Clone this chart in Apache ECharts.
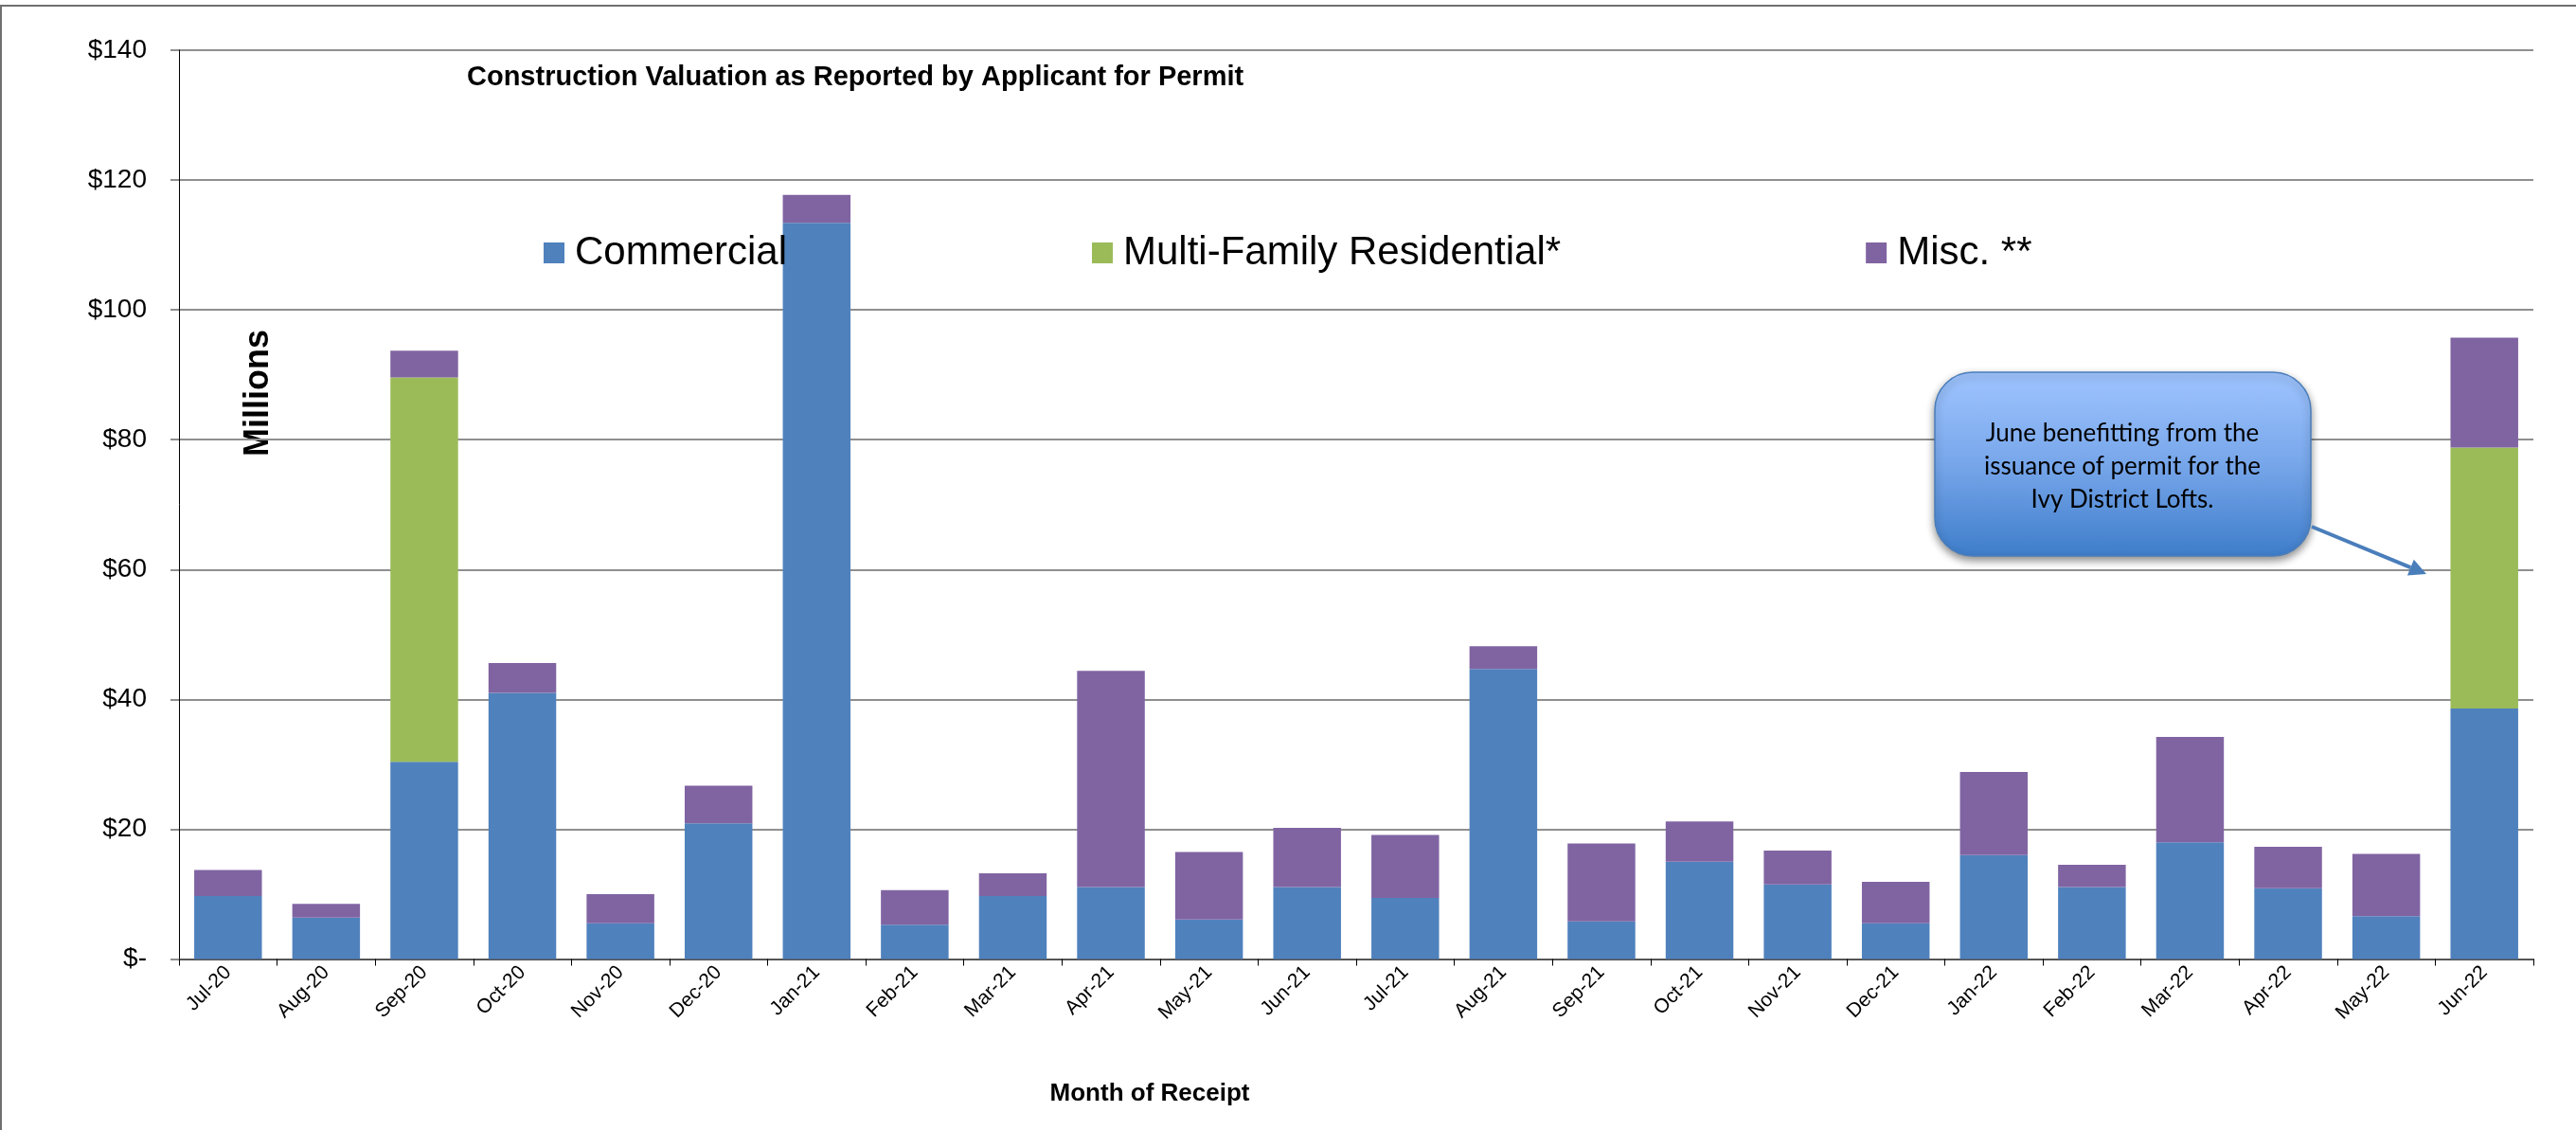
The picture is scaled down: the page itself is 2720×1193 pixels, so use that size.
<!DOCTYPE html>
<html>
<head>
<meta charset="utf-8">
<script src="https://cdn.jsdelivr.net/npm/echarts@6/dist/echarts.min.js"></script>
<style>
  html, body { margin: 0; padding: 0; background: #fff; }
  #chart { width: 2720px; height: 1193px; }
</style>
</head>
<body>
<div id="chart"></div>
<script>
const categories = ['Jul-20','Aug-20','Sep-20','Oct-20','Nov-20','Dec-20','Jan-21','Feb-21','Mar-21','Apr-21','May-21','Jun-21',
                    'Jul-21','Aug-21','Sep-21','Oct-21','Nov-21','Dec-21','Jan-22','Feb-22','Mar-22','Apr-22','May-22','Jun-22'];
const commercial  = [9.7, 6.4, 30.4, 41.0, 5.5, 20.9, 113.4, 5.3, 9.7, 11.1, 6.1, 11.1,
                     9.4, 44.7, 5.8, 15.0, 11.5, 5.5, 16.0, 11.1, 18.0, 10.9, 6.6, 38.6];
const multiFamily = [0, 0, 59.2, 0, 0, 0, 0, 0, 0, 0, 0, 0,
                     0, 0, 0, 0, 0, 0, 0, 0, 0, 0, 0, 40.2];
const misc        = [4.0, 2.1, 4.1, 4.6, 4.5, 5.8, 4.3, 5.3, 3.5, 33.3, 10.4, 9.1,
                     9.7, 3.5, 12.0, 6.2, 5.2, 6.4, 12.8, 3.4, 16.2, 6.4, 9.6, 16.9];
const seriesNames = ['Commercial', 'Multi-Family Residential*', 'Misc. **'];
const yTicks = { min: 0, max: 140, interval: 20 };
const chartTitle = 'Construction Valuation as Reported by Applicant for Permit';
const xTitle = 'Month of Receipt';
const yTitle = 'Millions';
const noteText = 'June benefitting from the\nissuance of permit for the\nIvy District Lofts.';

const FONT = '"Liberation Sans", Arial, sans-serif';
const colors = ['#4F81BD', '#9BBB59', '#8064A2'];

const chart = echarts.init(document.getElementById('chart'), null, { renderer: 'canvas' });

// arrow geometry for annotation
const arrowFrom = [2441, 556], arrowTip = [2562, 606];
const dx = arrowTip[0] - arrowFrom[0], dy = arrowTip[1] - arrowFrom[1];
const len = Math.sqrt(dx * dx + dy * dy), ux = dx / len, uy = dy / len;
const headL = 18, headW = 9;
const base = [arrowTip[0] - ux * headL, arrowTip[1] - uy * headL];

const option = {
  animation: false,
  backgroundColor: '#fff',
  title: {
    text: chartTitle,
    left: 493, top: 67, padding: 0,
    textStyle: { fontFamily: FONT, fontWeight: 'bold', fontSize: 29, color: '#000' }
  },
  legend: {
    data: seriesNames,
    left: 574, top: 245, padding: 0,
    icon: 'rect', itemWidth: 22, itemHeight: 22, itemGap: 322,
    textStyle: { fontFamily: FONT, fontSize: 42, color: '#000', padding: [0, 0, 0, 6], lineHeight: 44 }
  },
  grid: { left: 189, right: 45, top: 53, bottom: 180.5, containLabel: false },
  xAxis: {
    type: 'category',
    data: categories,
    axisLine: { lineStyle: { color: '#555', width: 2 } },
    axisTick: { show: true, length: 7, lineStyle: { color: '#000', width: 1 } },
    axisLabel: { rotate: 45, fontFamily: FONT, fontSize: 21, color: '#000', margin: 11, interval: 0 }
  },
  yAxis: {
    type: 'value',
    min: yTicks.min, max: yTicks.max, interval: yTicks.interval,
    axisLine: { show: true, lineStyle: { color: '#000', width: 1 } },
    axisTick: { show: true, length: 9, lineStyle: { color: '#8f8f8f', width: 2 } },
    splitLine: { lineStyle: { color: '#8f8f8f', width: 2 } },
    axisLabel: {
      fontFamily: FONT, fontSize: 28, color: '#000', margin: 34,
      formatter: v => v === 0 ? '$-' : '$' + v
    }
  },
  series: [
    { name: seriesNames[0], type: 'bar', stack: 'total', data: commercial, barCategoryGap: '31%', itemStyle: { color: colors[0] } },
    { name: seriesNames[1], type: 'bar', stack: 'total', data: multiFamily, itemStyle: { color: colors[1] } },
    { name: seriesNames[2], type: 'bar', stack: 'total', data: misc, itemStyle: { color: colors[2] } }
  ],
  graphic: [
    { type: 'rect', silent: true, z: -10, shape: { x: 1, y: 6, width: 2800, height: 1300 },
      style: { fill: 'none', stroke: '#6f6f6f', lineWidth: 2 } },
    { type: 'text', silent: true, x: 273, y: 415, rotation: Math.PI / 2,
      style: { text: yTitle, font: 'bold 36px ' + FONT, fill: '#000', textAlign: 'center', textVerticalAlign: 'middle' } },
    { type: 'text', silent: true, x: 1214, y: 1155,
      style: { text: xTitle, font: 'bold 26px ' + FONT, fill: '#000', textAlign: 'center', textVerticalAlign: 'middle' } },
    { type: 'rect', silent: true, z: 100, shape: { x: 2043, y: 393, width: 397, height: 194, r: 40 },
      style: {
        fill: new echarts.graphic.LinearGradient(0, 0, 0, 1, [
          { offset: 0, color: '#A0C5FF' }, { offset: 0.5, color: '#77A6EA' }, { offset: 1, color: '#3E7DCA' }
        ]),
        stroke: '#4A7EBB', lineWidth: 1.5,
        shadowBlur: 8, shadowOffsetY: 4, shadowColor: 'rgba(0,0,0,0.45)'
      } },
    { type: 'text', silent: true, z: 101, x: 2241, y: 493,
      style: { text: noteText, font: '26px Lato', lineHeight: 35, fill: '#000', textAlign: 'center', textVerticalAlign: 'middle' } },
    { type: 'line', silent: true, z: 100, shape: { x1: arrowFrom[0], y1: arrowFrom[1], x2: base[0], y2: base[1] },
      style: { stroke: '#4A7EBB', lineWidth: 4 } },
    { type: 'polygon', silent: true, z: 100,
      shape: { points: [arrowTip, [base[0] - uy * headW, base[1] + ux * headW], [base[0] + uy * headW, base[1] - ux * headW]] },
      style: { fill: '#4A7EBB' } }
  ]
};
chart.setOption(option);
</script>
</body>
</html>
